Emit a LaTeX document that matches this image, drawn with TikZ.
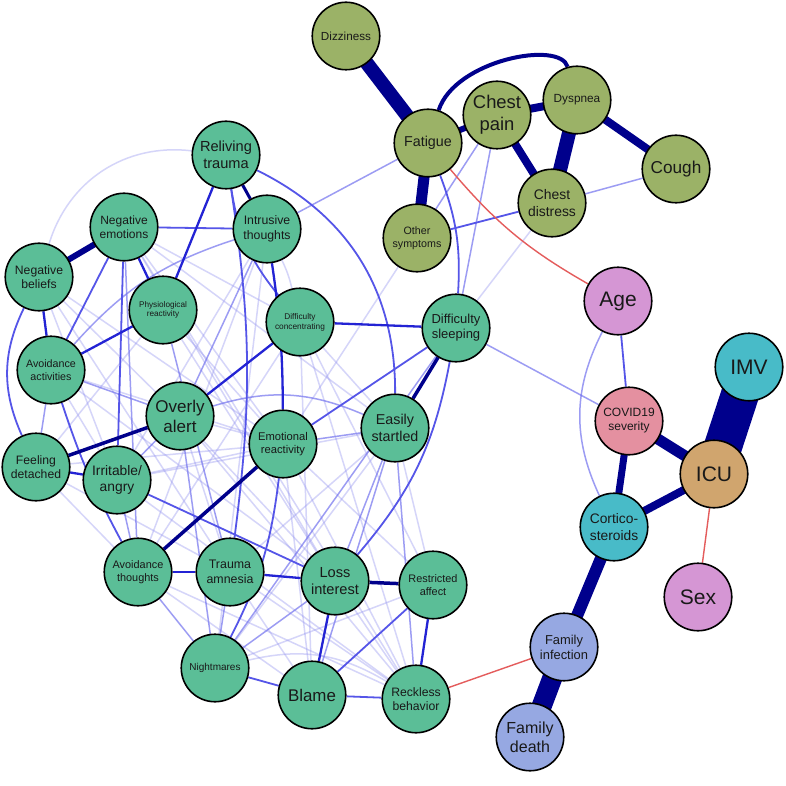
\documentclass[tikz,border=0pt]{standalone}
\usepackage{fontspec}
\setmainfont{Liberation Sans}
\usetikzlibrary{backgrounds}
\definecolor{grn}{RGB}{91,190,151}
\definecolor{olv}{RGB}{155,178,103}
\definecolor{pnk}{RGB}{213,150,212}
\definecolor{cvd}{RGB}{228,144,160}
\definecolor{icuc}{RGB}{208,165,110}
\definecolor{cyn}{RGB}{72,187,200}
\definecolor{fam}{RGB}{150,168,226}
\definecolor{eF}{RGB}{150,150,240}
\definecolor{eL}{RGB}{115,115,238}
\definecolor{eM}{RGB}{85,85,232}
\definecolor{eS}{RGB}{35,35,212}
\definecolor{eD}{RGB}{0,0,140}
\definecolor{eN}{RGB}{228,92,92}
\definecolor{txt}{RGB}{25,25,25}
\newcommand\fz[1]{\fontsize{#1}{1.17\dimexpr#1pt\relax}\selectfont}
\tikzset{
 nd/.style={circle, draw=black, line width=1.6pt, minimum size=67.5pt, inner sep=0pt, align=center, text=txt},
 ef/.style={draw=eF, line width=1.5pt, opacity=0.4},
 el/.style={draw=eL, line width=1.5pt, opacity=0.7},
 em/.style={draw=eM, line width=1.8pt},
 es/.style={draw=eS, line width=2.3pt},
 ed/.style={draw=eD},
 eneg/.style={draw=eN, line width=1.4pt},
}
\begin{document}
\begin{tikzpicture}[x=1pt,y=-1pt]
\useasboundingbox (0,0) rectangle (786,786);
% PTSD nodes
\node[nd, fill=grn, font=\fz{14.6}] (RT) at (226,155) {Reliving\\trauma};
\node[nd, fill=grn, font=\fz{12}] (NE) at (124,227) {Negative\\emotions};
\node[nd, fill=grn, font=\fz{12.2}] (NB) at (39,277) {Negative\\beliefs};
\node[nd, fill=grn, font=\fz{12.3}] (IT) at (267,229) {Intrusive\\thoughts};
\node[nd, fill=grn, font=\fz{8.2}] (PR) at (163,310) {Physiological\\reactivity};
\node[nd, fill=grn, font=\fz{8.3}] (DC) at (300,322) {Difficulty\\concentrating};
\node[nd, fill=grn, font=\fz{10.7}] (AA) at (51,370) {Avoidance\\activities};
\node[nd, fill=grn, font=\fz{17}] (OA) at (180,416) {Overly\\alert};
\node[nd, fill=grn, font=\fz{11.2}] (ER) at (283,444) {Emotional\\reactivity};
\node[nd, fill=grn, font=\fz{14.3}] (ES) at (395,428) {Easily\\startled};
\node[nd, fill=grn, font=\fz{12.2}] (FD) at (36,467) {Feeling\\detached};
\node[nd, fill=grn, font=\fz{13.8}] (IA) at (117,480) {Irritable/\\angry};
\node[nd, fill=grn, font=\fz{10.9}] (AT) at (138,572) {Avoidance\\thoughts};
\node[nd, fill=grn, font=\fz{12.4}] (TA) at (230,572) {Trauma\\amnesia};
\node[nd, fill=grn, font=\fz{14.6}] (LI) at (335,581) {Loss\\interest};
\node[nd, fill=grn, font=\fz{10.9}] (RA) at (433,585) {Restricted\\affect};
\node[nd, fill=grn, font=\fz{10}] (NM) at (215,668) {Nightmares};
\node[nd, fill=grn, font=\fz{16.9}] (BL) at (312,695) {Blame};
\node[nd, fill=grn, font=\fz{12.2}] (RB) at (416,699) {Reckless\\behavior};
\node[nd, fill=grn, font=\fz{13}] (DS) at (456,328) {Difficulty\\sleeping};
% symptom nodes
\node[nd, fill=olv, font=\fz{11.7}] (DZ) at (346,36) {Dizziness};
\node[nd, fill=olv, font=\fz{14.3}] (FA) at (428,143) {Fatigue};
\node[nd, fill=olv, font=\fz{18.4}] (CP) at (497,115) {Chest\\pain};
\node[nd, fill=olv, font=\fz{11.8}] (DY) at (577,100) {Dyspnea};
\node[nd, fill=olv, font=\fz{17.2}] (CO) at (676,169) {Cough};
\node[nd, fill=olv, font=\fz{13.9}] (CD) at (552,203) {Chest\\distress};
\node[nd, fill=olv, font=\fz{10.7}] (OS) at (417,238) {Other\\symptoms};
% clinical nodes
\node[nd, fill=pnk, font=\fz{21}] (AG) at (618,301) {Age};
\node[nd, fill=cyn, font=\fz{21}] (IMV) at (749,367) {IMV};
\node[nd, fill=cvd, font=\fz{12}] (CS) at (629,421) {COVID19\\severity};
\node[nd, fill=icuc, font=\fz{21}] (ICU) at (714,474) {ICU};
\node[nd, fill=cyn, font=\fz{13.8}] (CT) at (614,527) {Cortico-\\steroids};
\node[nd, fill=pnk, font=\fz{21}] (SX) at (698,597) {Sex};
\node[nd, fill=fam, font=\fz{12.9}] (FI) at (564,647) {Family\\infection};
\node[nd, fill=fam, font=\fz{16}] (FDe) at (530,737) {Family\\death};

\begin{scope}[on background layer]
\fill[white] (0,0) rectangle (786,786);
% faint edges
\draw[ef] (RT) to[bend right=40] (NB);
\draw[ef] (NE) -- (DC);
\draw[ef] (NE) -- (ER);
\draw[ef] (NE) -- (ES);
\draw[ef] (NE) -- (LI);
\draw[ef] (NE) -- (RB);
\draw[ef] (NB) -- (OA);
\draw[ef] (NB) -- (ER);
\draw[ef] (NB) -- (IA);
\draw[ef] (NB) -- (TA);
\draw[ef] (AA) -- (IA);
\draw[ef] (AA) -- (ER);
\draw[ef] (AA) -- (LI);
\draw[ef] (FD) -- (AT);
\draw[ef] (FD) -- (ER);
\draw[ef] (FD) -- (TA);
\draw[ef] (IA) -- (ER);
\draw[ef] (IA) -- (RB);
\draw[ef] (IA) -- (ES);
\draw[ef] (OA) -- (TA);
\draw[ef] (OA) -- (LI);
\draw[ef] (OA) -- (RB);
\draw[ef] (OA) -- (ER);
\draw[ef] (PR) -- (ER);
\draw[ef] (PR) -- (LI);
\draw[ef] (PR) -- (FD);
\draw[ef] (IT) -- (AT);
\draw[ef] (IT) -- (IA);
\draw[ef] (IT) to[bend left=6] (DC);
\draw[ef] (IT) -- (NM);
\draw[ef] (DC) -- (AT);
\draw[ef] (DC) -- (BL);
\draw[ef] (DC) -- (RB);
\draw[ef] (DC) -- (ES);
\draw[ef] (DC) -- (RA);
\draw[ef] (ER) -- (RA);
\draw[ef] (ER) -- (RB);
\draw[ef] (ER) -- (BL);
\draw[ef] (ES) -- (TA);
\draw[ef] (ES) -- (NM);
\draw[ef] (ES) -- (RA);
\draw[ef] (AT) -- (RB);
\draw[ef] (AT) -- (BL);
\draw[ef] (TA) -- (RB);
\draw[ef] (TA) -- (BL);
\draw[ef] (NM) -- (RA);
\draw[ef] (NM) to[bend left=22] (RB);
\draw[ef] (LI) -- (RB);
\draw[ef] (CD) -- (DS);
\draw[ef] (OS) -- (ER);
% light edges
\draw[el] (FA) -- (IT);
\draw[el] (CP) -- (DS);
\draw[el] (CP) -- (OS);
\draw[el] (CD) -- (CO);
\draw[el] (DS) -- (CS);
\draw[el] (AG) to[bend right=26] (CT);
\draw[el] (IT) -- (OA);
\draw[el] (IT) to[bend right=15] (AA);
\draw[el] (NE) -- (AT);
\draw[el] (AA) -- (FD);
\draw[el] (AA) -- (OA);
\draw[el] (IA) -- (OA);
\draw[el] (IA) -- (AT);
\draw[el] (OA) to[bend left=20] (ES);
\draw[el] (OA) -- (NM);
\draw[el] (ER) -- (ES);
\draw[el] (ES) -- (LI);
\draw[el] (ES) -- (BL);
\draw[el] (ES) -- (RB);
\draw[el] (PR) -- (TA);
\draw[el] (AT) -- (NM);
\draw[el] (TA) -- (NM);
\draw[el] (NM) -- (LI);
\draw[el] (DS) -- (NM);
% medium edges
\draw[em] (NE) -- (IT);
\draw[em] (RT) to[bend right=15] (DC);
\draw[em] (RT) to[bend left=32] (ES);
\draw[em] (NB) to[bend right=25] (FD);
\draw[em] (NE) -- (AA);
\draw[em] (AA) to[bend right=5] (AT);
\draw[em] (NE) -- (IA);
\draw[em] (RT) to[bend left=8] (TA);
\draw[em] (DS) to[bend left=15] (LI);
\draw[em] (ER) to[bend left=10] (NM);
\draw[em] (IA) -- (LI);
\draw[em] (BL) -- (RB);
\draw[em] (NM) -- (BL);
\draw[em] (BL) -- (RA);
\draw[em] (DS) -- (ER);
\draw[em] (FA) to[bend left=12] (DS);
\draw[em] (OS) -- (CD);
\draw[em] (AG) -- (CS);
% strong blue edges
\draw[es] (DC) -- (OA);
\draw[es] (RT) -- (PR);
\draw[es] (IT) to[bend left=4] (ER);
\draw[es] (PR) -- (AA);
\draw[es] (NE) -- (PR);
\draw[es] (NB) -- (AA);
\draw[es] (FD) -- (IA);
\draw[es] (AT) -- (TA);
\draw[es] (TA) -- (LI);
\draw[es] (LI) -- (BL);
\draw[es] (RA) -- (RB);
\draw[es] (DC) -- (DS);
% dark edges
\draw[ed, line width=6pt] (NE.center) -- (NB.center);
\draw[ed, line width=3.5pt] (OA) -- (FD);
\draw[ed, line width=3.5pt] (ER) -- (AT);
\draw[ed, line width=3.5pt] (DS) -- (ES);
\draw[ed, line width=3.5pt] (LI) -- (RA);
\draw[ed, line width=3pt] (RT) -- (IT);
\draw[ed, line width=14pt] (DZ.center) -- (FA.center);
\draw[ed, line width=11pt] (FA.center) -- (OS.center);
\draw[ed, line width=6pt] (FA.center) -- (CP.center);
\draw[ed, line width=8pt] (CP.center) -- (DY.center);
\draw[ed, line width=14pt] (DY.center) -- (CD.center);
\draw[ed, line width=8pt] (CP.center) -- (CD.center);
\draw[ed, line width=8pt] (DY.center) -- (CO.center);
\draw[ed, line width=4pt] (FA) .. controls (455,60) and (560,40) .. (DY);
\draw[ed, line width=11pt] (CS.center) -- (ICU.center);
\draw[ed, line width=7pt] (CS.center) -- (CT.center);
\draw[ed, line width=8pt] (ICU.center) -- (CT.center);
\draw[ed, line width=38pt] (ICU.center) -- (IMV.center);
\draw[ed, line width=12pt] (CT.center) -- (FI.center);
\draw[ed, line width=20pt] (FI.center) -- (FDe.center);
% negative edges
\draw[eneg] (FA) to[bend right=10] (AG);
\draw[eneg] (ICU) -- (SX);
\draw[eneg] (FI) -- (RB);
\end{scope}
\end{tikzpicture}
\end{document}
